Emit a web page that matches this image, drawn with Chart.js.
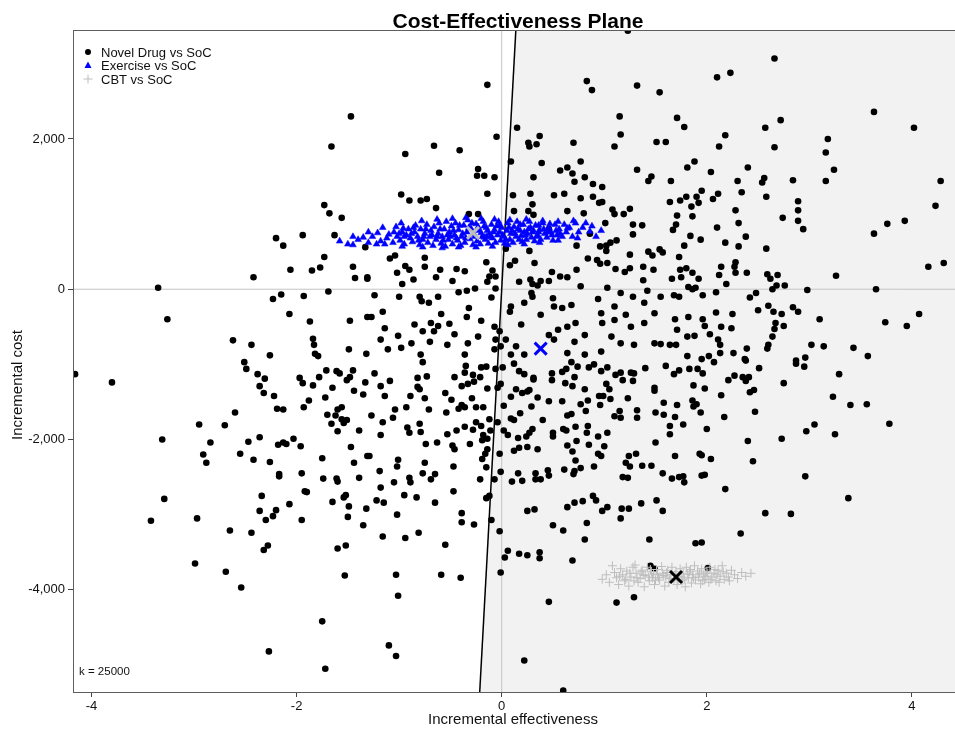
<!DOCTYPE html>
<html>
<head>
<meta charset="utf-8">
<script src="https://cdn.jsdelivr.net/npm/chart.js@4.4.1/dist/chart.umd.min.js"></script>
<style>
    html, body { margin: 0; padding: 0; background: #fff; }
    #lienzo { display: block; }
</style>
</head>
<body>
<canvas id="lienzo" width="955" height="731"></canvas>
<script>
// simulaciones: [efecto incremental, coste incremental]
const novelDrug = [
    [-1.47,2300],[-1.66,1900],[-1.73,1120],[-1.68,1010],[-1.56,950],[-2.20,680],[-2.13,580],[-1.94,720],[-1.63,720],[-1.33,560],
    [-1.73,430],[-2.06,260],[-1.85,250],[-1.77,290],[-1.45,300],[-1.43,150],[-1.31,140],[-2.42,160],[-3.35,20],[-3.26,-400],
    [-2.23,-130],[-2.15,-70],[-1.93,-90],[-1.69,-30],[-2.07,-330],[-1.87,-430],[-1.48,-420],[-1.31,-370],[-2.62,-680],[-2.44,-740],
    [-1.84,-660],[-1.83,-740],[-2.26,-880],[-1.82,-860],[-1.79,-890],[-1.49,-800],[-1.32,-860],
    [-4.16,-1130],[-3.80,-1240],[-2.51,-970],[-2.49,-1060],[-2.38,-1130],[-2.31,-1190],[-2.36,-1290],[-2.32,-1380],[-2.22,-1420],[-2.19,-1590],
    [-2.13,-1600],[-1.97,-1180],[-1.94,-1250],[-1.84,-1280],[-1.78,-1170],[-1.71,-1080],[-1.61,-1090],[-1.58,-1120],[-1.51,-1210],[-1.48,-1170],
    [-1.45,-1080],[-1.33,-1240],[-1.65,-1310],[-1.44,-1350],[-1.35,-1400],[-1.88,-1480],[-1.93,-1570],[-1.72,-1440],[-1.60,-1600],[-1.56,-1570],
    [-1.70,-1670],[-1.62,-1680],[-1.56,-1730],[-1.51,-1740],[-1.66,-1790],[-1.54,-1780],[-1.60,-1890],[-1.39,-1880],[-2.60,-1640],[-2.95,-1800],
    [-2.70,-1810],[-3.31,-2000],[-2.84,-2040],[-2.91,-2200],[-2.88,-2310],[-2.47,-2030],[-2.55,-2190],[-2.42,-2270],[-2.36,-1970],[-2.26,-2300],
    [-2.18,-2070],[-2.13,-2040],[-2.10,-2060],[-2.03,-1990],[-1.96,-2090],[-1.75,-2250],[-1.47,-2100],[-1.44,-2310],[-1.31,-2220],[-2.17,-2490],
    [-2.17,-2460],[-1.95,-2450],[-1.74,-2520],[-1.61,-2520],[-1.60,-2560],[-1.39,-2510],[-1.92,-2690],[-1.90,-2700],[-2.34,-2750],[-2.07,-2860],
    [-2.36,-2950],[-2.20,-2940],[-2.23,-3020],[-2.30,-3070],[-1.95,-3070],[-1.65,-2830],[-1.54,-2770],[-1.52,-2740],[-1.49,-2890],[-1.32,-2920],
    [-1.50,-3030],[-1.35,-3140],[-3.29,-2790],[-3.42,-3080],[-2.97,-3050],[-2.65,-3210],[-2.44,-3240],[-2.28,-3410],[-2.32,-3470],[-1.52,-3410],
    [-1.60,-3450],[-2.99,-3650],[-2.69,-3760],[-2.54,-3970],[-1.53,-3810],[-1.75,-4420],[-2.27,-4820],[-1.72,-5050],
    [1.23,3440],[-0.14,2720],[0.83,2770],[0.88,2650],[1.32,2710],[1.54,2620],[1.15,2300],[1.16,2060],[1.10,1900],[1.51,1960],
    [0.15,2150],[-0.05,2030],[0.37,2040],[0.26,1950],[0.27,1900],[0.34,1930],[0.70,1950],[-0.66,1910],[-0.41,1850],[-0.94,1800],
    [0.09,1700],[0.39,1680],[-0.61,1550],[-0.23,1600],[-0.24,1510],[-0.17,1510],[-0.07,1490],[0.57,1580],[0.64,1620],[0.69,1540],
    [0.77,1700],[0.81,1490],[0.71,1430],[0.31,1490],[1.32,1590],[1.46,1500],[1.43,1440],[0.89,1400],[0.98,1360],[-0.14,1270],
    [-0.98,1260],[-0.90,1180],[-0.79,1180],[-0.73,1200],[-0.64,1080],[0.11,1250],[0.28,1270],[0.30,1130],[0.51,1250],[0.61,1270],
    [0.77,1210],[0.89,1230],[0.95,1150],[0.98,1160],[0.12,1040],[0.26,1040],[0.31,990],[0.64,1040],[0.80,1010],[1.08,1060],
    [1.10,1000],[1.19,1000],[1.25,1070],[-0.32,1000],[-0.23,1000],[1.01,880],[1.28,860],[1.37,850],[1.28,730],[0.46,800],
    [0.96,570],[1.02,580],[1.12,650],[1.06,620],[0.73,580],[0.86,740],[1.02,510],[0.84,410],[0.93,390],[0.96,340],
    [1.03,350],[1.11,270],[1.20,230],[1.25,280],[1.38,300],[1.43,500],[1.47,450],[1.54,530],[1.48,260],[1.25,460],
    [1.38,120],[0.04,540],[0.27,510],[0.32,350],[0.13,380],[0.08,320],[0.73,260],[0.64,160],[0.57,170],[0.49,230],
    [0.46,110],[0.38,110],[0.28,130],[0.30,70],[0.35,50],[0.17,100],[-1.09,410],[-1.04,450],[-0.75,420],[-0.75,300],
    [-0.94,310],[-0.90,260],[-1.02,220],[-0.64,160],[-0.60,260],[-0.44,270],[-0.36,240],[-0.48,110],[-0.15,360],[-0.09,250],
    [-0.06,170],[-0.12,170],[-0.14,100],[-0.97,70],[-0.86,130],[-0.06,10],[-0.42,-40],[-0.34,-20],[-0.26,10],[-1.31,160],
    [-1.24,-80],[-1.00,-100],[-0.80,-100],[-0.78,-160],[-0.71,-180],[-0.62,-100],[-0.10,-110],[-0.59,-330],[-0.32,-250],[-0.34,-370],
    [-0.20,-420],[-1.16,-300],[-1.27,-370],[-1.14,-520],[-1.18,-670],[-1.01,-620],[-0.85,-470],[-0.69,-450],[-0.62,-490],[-0.51,-460],
    [-0.77,-560],[-0.66,-560],[-0.46,-600],[-0.88,-720],[-0.70,-700],[-0.53,-740],[-0.33,-720],[-0.23,-630],[-1.11,-800],[-0.98,-780],
    [-0.79,-870],[-0.36,-870],[-0.07,-500],[-0.02,-560],[-0.06,-670],[-0.07,-800],[-0.01,-760],[0.04,-670],[0.14,-760],[0.09,-870],
    [0.19,-470],[0.09,-230],[0.08,-300],[0.22,-180],[0.30,-100],[0.29,-50],[0.38,-340],[0.50,-120],[0.51,-230],[0.59,-250],
    [0.68,-210],[0.77,40],[0.94,-130],[1.03,20],[1.16,-50],[1.28,-100],[1.42,-20],[1.55,-100],[1.39,-180],[1.10,-230],
    [0.97,-320],[0.98,-450],[1.10,-410],[1.21,-340],[1.49,-320],[1.39,-450],[1.26,-500],[0.72,-450],[0.64,-500],[0.55,-540],
    [0.46,-610],[0.81,-610],[0.71,-700],[0.51,-670],[1.07,-630],[1.16,-720],[1.29,-740],[1.49,-720],[0.97,-830],[0.81,-870],
    [0.64,-850],[0.22,-870],
    [2.66,3070],[2.10,2820],[2.23,2880],[3.63,2360],[4.02,2150],[1.71,2280],[1.78,2160],[1.60,1960],[2.18,2050],[2.12,1900],
    [2.57,2150],[2.72,2250],[2.66,1890],[3.18,2000],[3.16,1820],[3.24,1590],[3.16,1440],[4.28,1440],[4.23,1110],[1.88,1700],
    [1.81,1620],[2.04,1560],[2.40,1620],[1.65,1440],[2.30,1440],[2.56,1480],[2.54,1420],[2.84,1450],[1.95,1310],[2.11,1270],
    [2.34,1290],[1.80,1230],[1.90,1230],[2.06,1200],[1.74,1180],[1.64,1160],[1.92,1150],[1.85,1100],[2.58,1230],[2.89,1170],
    [2.89,1050],[2.89,910],[2.94,800],[2.28,1050],[2.74,950],[1.71,980],[1.86,970],[1.70,860],[1.67,790],[2.31,880],
    [2.10,820],[1.84,710],[1.94,660],[2.38,700],[2.18,620],[2.31,570],[2.58,540],[1.78,580],[1.57,490],[1.73,430],
    [2.28,360],[2.27,300],[2.28,220],[2.14,300],[2.12,190],[2.39,220],[2.19,70],[1.74,260],[1.80,280],[1.86,220],
    [1.66,140],[1.75,160],[1.92,140],[1.82,30],[1.86,0],[1.89,20],[2.59,200],[2.69,190],[2.62,140],[2.68,50],
    [2.64,0],[2.76,50],[3.26,180],[4.16,300],[4.31,350],[3.63,740],[3.76,870],[3.93,910],[3.65,0],[2.98,-10],
    [1.68,-80],[1.73,-100],[1.96,-80],[2.09,-40],[2.42,-110],[2.48,-50],[2.60,-220],[2.65,-300],[2.73,-330],[2.84,-240],
    [2.89,-300],[2.50,-280],[2.25,-330],[2.09,-310],[1.82,-370],[1.69,-400],[1.96,-400],[1.98,-490],[1.71,-540],[2.14,-500],
    [2.24,-520],[2.67,-450],[2.75,-490],[2.66,-530],[2.64,-630],[3.10,-400],[4.07,-330],[3.74,-440],[3.95,-490],[1.81,-630],
    [1.88,-620],[2.03,-600],[2.11,-670],[2.13,-740],[1.55,-730],[1.64,-740],[1.70,-740],[2.60,-740],[2.59,-790],[2.39,-790],
    [3.02,-740],[3.14,-760],[3.43,-780],[2.13,-850],[2.26,-850],[1.81,-890],[2.02,-890],[1.95,-930],[2.37,-930],[2.96,-910],
    [3.57,-890],[2.87,-950],
    [-0.77,-970],[-0.35,-1020],[-0.20,-1040],[-0.15,-1030],[-0.06,-1060],[0.01,-1040],[-1.24,-1120],[-1.09,-1220],[-1.18,-1290],[-0.82,-1180],
    [-0.73,-1160],[-0.46,-1170],[-0.36,-1110],[-0.28,-1140],[-0.27,-1230],[-0.33,-1260],[-0.39,-1290],[-0.21,-1170],[-0.14,-1320],[-0.82,-1300],
    [-0.80,-1330],[-1.14,-1420],[-0.89,-1420],[-0.75,-1450],[-0.55,-1380],[-0.49,-1470],[-0.29,-1450],[-1.04,-1600],[-0.93,-1570],[-0.71,-1600],
    [-0.54,-1640],[-0.42,-1590],[-0.39,-1540],[-0.36,-1570],[-0.25,-1570],[-0.18,-1570],[-1.27,-1680],[-1.06,-1710],[-1.16,-1770],[-0.92,-1840],
    [-0.90,-1910],[-0.80,-1790],[-0.79,-1900],[-1.18,-1940],[-0.53,-1930],[-0.44,-1880],[-0.36,-1830],[-0.28,-1870],[-0.25,-1770],[-0.20,-1820],
    [-0.12,-1730],[-0.04,-1770],[-0.74,-2060],[-0.63,-2040],[-0.48,-2080],[-0.46,-2130],[-0.31,-2060],[-0.19,-2010],[-0.14,-1990],[-0.18,-1940],
    [-0.11,-1880],[-0.14,-2130],[-0.16,-2190],[-0.19,-2260],[-1.29,-2220],[-1.01,-2270],[-1.02,-2360],[-0.75,-2310],[-0.47,-2360],[-0.15,-2370],
    [-1.19,-2420],[-0.77,-2450],[-0.69,-2530],[-0.65,-2460],[-0.90,-2510],[-0.89,-2570],[-1.05,-2570],[-0.21,-2530],[-0.07,-2530],[-1.18,-2640],
    [-0.47,-2690],[-0.95,-2740],[-0.83,-2770],[-1.22,-2810],[-1.15,-2840],[-0.65,-2840],[-0.15,-2780],[-0.12,-2750],[-1.02,-3000],[-0.39,-2980],
    [-0.39,-3100],[-0.27,-3130],[-0.10,-3070],[-0.02,-3220],[-1.16,-3290],[-0.94,-3310],[-0.81,-3240],[-0.55,-3400],[-1.03,-3800],[-0.59,-3800],
    [-0.40,-3840],[-1.01,-4080],[-1.10,-4740],[-1.03,-4880],[-0.01,-3770],[0.22,-4940],[0.60,-5340],
    [0.12,-990],[0.17,-1090],[0.22,-1130],[0.31,-1180],[0.49,-1120],[0.49,-1210],[0.59,-1100],[0.63,-1060],[0.71,-1170],[0.68,-970],
    [0.74,-1030],[0.85,-1040],[0.90,-1000],[0.97,-1090],[1.03,-1040],[1.11,-1140],[1.18,-1210],[1.16,-1110],[1.26,-1110],[1.29,-1120],
    [1.40,-1050],[1.28,-1220],[1.49,-1310],[1.49,-1350],[0.62,-1250],[0.69,-1290],[0.81,-1330],[1.02,-1260],[1.05,-1330],[0.14,-1330],
    [0.20,-1380],[0.25,-1360],[0.27,-1340],[0.31,-1200],[0.09,-1430],[-0.01,-1260],[-0.04,-1310],[0.35,-1440],[0.46,-1490],[0.59,-1490],
    [0.77,-1530],[0.82,-1620],[0.84,-1480],[0.96,-1540],[0.95,-1420],[0.99,-1420],[1.06,-1460],[1.23,-1450],[1.32,-1610],[1.32,-1710],
    [1.10,-1690],[1.16,-1710],[1.15,-1620],[1.50,-1640],[0.02,-1550],[0.09,-1720],[0.12,-1740],[0.18,-1650],[0.29,-1560],[0.40,-1740],
    [0.64,-1680],[0.68,-1660],[0.60,-1860],[0.63,-1880],[0.72,-1830],[0.84,-1820],[0.83,-1910],[0.50,-1910],[0.50,-1960],[0.30,-1860],
    [0.27,-1910],[0.24,-1960],[0.16,-1980],[0.06,-1940],[0.02,-1880],[0.94,-1960],[1.03,-1910],[0.73,-2020],[0.85,-2070],[0.64,-2080],
    [0.69,-2160],[0.72,-2280],[0.94,-2190],[0.97,-2220],[1.00,-2090],[1.24,-2220],[1.31,-2190],[1.21,-2310],[1.25,-2360],[1.50,-2040],
    [1.46,-2350],[0.12,-2150],[0.17,-2110],[0.25,-2100],[0.35,-2130],[-0.02,-2190],[-0.01,-2430],[0.10,-2560],[0.16,-2450],[0.20,-2550],
    [0.33,-2450],[0.33,-2530],[0.38,-2530],[0.45,-2410],[0.46,-2480],[0.61,-2400],[0.70,-2460],[0.71,-2420],[0.77,-2380],[0.90,-2360],
    [1.18,-2500],[1.23,-2510],[1.37,-2350],[0.25,-2950],[0.32,-2930],[0.64,-2900],[0.71,-2840],[0.79,-2820],[0.89,-2750],[0.92,-2810],
    [0.98,-2950],[1.03,-2900],[1.17,-2920],[1.16,-3050],[1.24,-2920],[1.36,-2850],[1.51,-2810],[0.50,-3140],[0.60,-3210],[0.83,-3110],
    [0.81,-3330],[1.44,-3330],[0.06,-3480],[0.03,-3570],[0.17,-3520],[0.25,-3540],[0.37,-3500],[0.37,-3580],[0.69,-3610],[0.46,-4160],
    [1.12,-4170],[1.29,-4100],[1.45,-3680],[1.49,-3720],
    [1.60,-1020],[1.68,-1130],[1.73,-1080],[1.83,-1060],[1.91,-1060],[1.96,-1120],[2.07,-970],[2.38,-950],[2.51,-1050],[2.87,-990],
    [2.95,-1030],[3.29,-1130],[1.87,-1280],[1.98,-1320],[2.14,-1410],[2.21,-1210],[2.27,-1150],[2.35,-1170],[2.38,-1220],[2.41,-1170],
    [2.42,-1370],[2.46,-1340],[2.75,-1250],[3.23,-1430],[3.40,-1540],[3.56,-1530],[3.78,-1790],[1.58,-1510],[1.71,-1540],[1.86,-1480],
    [1.90,-1530],[1.87,-1560],[1.58,-1670],[1.69,-1700],[1.94,-1640],[2.17,-1700],[2.47,-1630],[1.64,-1820],[1.64,-1930],[1.77,-1800],
    [2.00,-1860],[2.40,-2020],[2.73,-1990],[2.97,-1890],[3.05,-1800],[3.25,-1930],[1.69,-2220],[1.93,-2190],[1.95,-2210],[2.04,-2260],
    [2.45,-2290],[1.57,-2450],[1.66,-2520],[1.73,-2500],[1.77,-2490],[1.78,-2570],[1.95,-2480],[1.98,-2470],[2.18,-2660],[2.96,-2490],
    [3.38,-2780],[1.57,-2950],[2.57,-2980],[2.82,-2990],[2.33,-3250],[1.89,-3380],[1.95,-3370],[2.01,-3710]
];

const exercise = [
    [-1.58,640],[-1.50,600],[-1.45,590],[-1.40,660],[-1.35,690],[-1.30,620],[-1.26,700],[-1.21,750],[-1.18,640],[-1.14,600],
    [-1.12,680],[-1.10,730],[-1.06,620],[-1.03,830],[-1.02,700],[-0.99,650],[-0.97,760],[-0.95,600],[-0.93,720],[-0.91,800],
    [-0.89,680],[-0.87,630],[-0.85,760],[-0.84,850],[-0.82,700],[-0.80,590],[-0.79,800],[-0.77,660],[-0.75,740],[-0.73,860],
    [-0.72,620],[-0.70,700],[-0.69,780],[-0.67,580],[-0.66,830],[-0.64,660],[-0.62,740],[-0.61,880],[-0.59,610],[-0.58,700],
    [-0.56,800],[-0.55,570],[-0.54,900],[-0.52,660],[-0.51,760],[-0.49,840],[-0.48,600],[-0.46,720],[-0.45,880],[-0.43,650],
    [-0.42,790],[-0.40,580],[-0.39,700],[-0.37,850],[-0.36,620],[-0.34,760],[-0.33,920],[-0.31,670],[-0.30,810],[-0.28,590],
    [-0.27,730],[-0.25,870],[-0.24,640],[-0.22,780],[-0.21,600],[-0.19,700],[-0.18,900],[-0.16,660],[-0.15,820],[-0.13,610],
    [-0.12,740],[-0.10,860],[-0.09,680],[-0.07,790],[-0.06,620],[-0.04,720],[-0.03,900],[-0.01,650],[0.00,820],[0.02,700],
    [0.03,610],[0.05,780],[0.06,880],[0.08,660],[0.09,740],[0.11,620],[0.12,830],[0.14,700],[0.15,900],[0.17,660],
    [0.18,780],[0.20,630],[0.21,860],[0.23,720],[0.24,660],[0.26,800],[0.27,900],[0.29,690],[0.30,760],[0.32,640],
    [0.33,850],[0.35,720],[0.37,790],[0.38,660],[0.40,880],[0.42,740],[0.44,690],[0.46,820],[0.48,760],[0.50,650],
    [0.52,860],[0.54,720],[0.56,800],[0.59,700],[0.61,860],[0.63,760],[0.66,820],[0.69,700],[0.72,880],[0.75,760],
    [0.79,820],[0.82,880],[0.86,770],[0.97,780],
    [-0.95,700],[-0.88,740],[-0.81,650],[-0.76,700],[-0.68,720],[-0.63,700],[-0.57,650],[-0.53,720],[-0.47,780],[-0.44,680],
    [-0.38,740],[-0.35,680],[-0.32,820],[-0.26,700],[-0.23,830],[-0.20,750],[-0.17,690],[-0.14,780],[-0.11,700],[-0.08,760],
    [-0.05,840],[-0.02,760],[0.01,720],[0.04,660],[0.07,820],[0.10,780],[0.13,740],[0.16,800],[0.19,710],[0.22,760],
    [0.25,740],[0.28,820],[0.31,780],[0.34,700],[0.36,760],[0.41,800],[0.45,760],[0.49,720],[0.53,780],[0.57,740],
    [-1.05,760],[-1.00,740],[-0.96,810],[-0.86,820],[-0.74,800],[-0.60,800],[-0.50,700],[-0.41,850],[-0.29,880],[-0.17,840],
    [-0.02,850],[0.18,860],[0.36,850],[0.47,870],[0.64,810],
    [-1.16,820],[-0.98,880],[-0.78,910],[-0.63,930],[-0.48,940],[-0.35,950],[-0.20,940],[-0.07,930],[0.08,920],[0.24,930],
    [0.40,910],[0.55,900],[0.70,910],[0.88,840],[0.92,700],[-1.22,600],[-0.97,570],[-0.77,560],[-0.58,550],[-0.42,560],
    [-0.25,560],[-0.09,570],[0.06,590],[0.22,600],[0.37,620],[0.55,650],[0.74,680],[-1.30,760],[-1.45,700],[-0.15,700]
];

const cbt = [
    [0.98,-3860],[1.02,-3800],[1.05,-3900],[1.08,-3680],[1.10,-3770],[1.12,-3840],[1.14,-3930],[1.16,-3720],[1.18,-3800],[1.20,-3880],
    [1.22,-3750],[1.24,-3950],[1.26,-3830],[1.28,-3700],[1.30,-3670],[1.31,-3780],[1.33,-3900],[1.35,-3850],[1.37,-3740],[1.39,-3960],
    [1.40,-3810],[1.42,-3700],[1.44,-3880],[1.46,-3760],[1.47,-3840],[1.49,-3930],[1.51,-3730],[1.52,-3800],[1.54,-3870],[1.56,-3690],
    [1.57,-3780],[1.59,-3950],[1.60,-3830],[1.62,-3740],[1.63,-3900],[1.65,-3800],[1.66,-3700],[1.68,-3860],[1.70,-3760],[1.71,-3930],
    [1.73,-3820],[1.74,-3720],[1.76,-3880],[1.77,-3790],[1.79,-3960],[1.80,-3700],[1.82,-3840],[1.83,-3760],[1.85,-3910],[1.86,-3800],
    [1.88,-3680],[1.89,-3870],[1.91,-3750],[1.92,-3830],[1.94,-3920],[1.95,-3720],[1.97,-3800],[1.98,-3860],[2.00,-3760],[2.02,-3900],
    [2.03,-3700],[2.05,-3830],[2.07,-3780],[2.09,-3880],[2.11,-3740],[2.13,-3820],[2.15,-3680],[2.17,-3860],[2.19,-3780],[2.21,-3830],
    [2.24,-3740],[2.27,-3800],[2.30,-3850],[2.34,-3770],[2.38,-3820],[2.43,-3780],
    [1.15,-3820],[1.25,-3780],[1.32,-3840],[1.38,-3800],[1.43,-3830],[1.48,-3790],[1.53,-3840],[1.58,-3810],[1.64,-3850],[1.69,-3800],
    [1.75,-3830],[1.81,-3790],[1.87,-3840],[1.93,-3780],[1.99,-3820],[2.04,-3860],[2.10,-3800],[2.16,-3760],[1.21,-3860],[1.36,-3760],
    [1.50,-3870],[1.61,-3770],[1.72,-3880],[1.84,-3730],[1.96,-3880],[2.08,-3730],[1.29,-3880],[1.45,-3730],[1.78,-3860],[2.01,-3780],
    [2.22,-3880],[2.12,-3900]
];

// medias de cada comparacion
const meanNovel = [0.38, -790];
const meanExercise = [-0.28, 750];
const meanCbt = [1.70, -3830];

const wtp = 25000;
const xLimits = [-4.18, 4.42];
const yLimits = [-5360, 3450];
const xTicks = [-4, -2, 0, 2, 4];
const yTicks = [-4000, -2000, 0, 2000];

const seriesNames = ["Novel Drug vs SoC", "Exercise vs SoC", "CBT vs SoC"];

const FUENTE = "'Liberation Sans', Arial, sans-serif";

function aPuntos(pares) {
    return pares.map((p) => ({ x: p[0], y: p[1] }));
}

const zonaCosteEfectiva = [
    { x: yLimits[0] / wtp, y: yLimits[0] },
    { x: yLimits[1] / wtp, y: yLimits[1] },
    { x: xLimits[1], y: yLimits[1] },
    { x: xLimits[1], y: yLimits[0] }
];

const decoracion = {
    id: "decoracion",
    afterDatasetsDraw(chart) {
        const ctx = chart.ctx;
        const a = chart.chartArea;
        ctx.save();

        // caja del grafico
        ctx.strokeStyle = "#5e5e5e";
        ctx.lineWidth = 1;
        ctx.strokeRect(a.left + 0.5, a.top + 0.5, a.right - a.left, a.bottom - a.top);

        // titulo
        ctx.fillStyle = "#000";
        ctx.font = "bold 21px " + FUENTE;
        ctx.textAlign = "center";
        ctx.textBaseline = "alphabetic";
        ctx.fillText("Cost-Effectiveness Plane", 518, 28);

        // leyenda
        ctx.font = "13px " + FUENTE;
        ctx.textAlign = "left";
        ctx.textBaseline = "middle";
        const filas = [53, 66.5, 80];
        ctx.fillStyle = "#000";
        ctx.beginPath();
        ctx.arc(88, filas[0] - 1, 3, 0, Math.PI * 2);
        ctx.fill();
        ctx.fillStyle = "#0000ff";
        ctx.beginPath();
        ctx.moveTo(88, filas[1] - 5);
        ctx.lineTo(91.5, filas[1] + 1.5);
        ctx.lineTo(84.5, filas[1] + 1.5);
        ctx.closePath();
        ctx.fill();
        ctx.strokeStyle = "#bebebe";
        ctx.lineWidth = 1;
        ctx.beginPath();
        ctx.moveTo(83.5, filas[2] - 1);
        ctx.lineTo(92.5, filas[2] - 1);
        ctx.moveTo(88, filas[2] - 5.5);
        ctx.lineTo(88, filas[2] + 3.5);
        ctx.stroke();
        ctx.fillStyle = "#111";
        seriesNames.forEach((nombre, i) => ctx.fillText(nombre, 101, filas[i]));

        // umbral
        ctx.font = "11.5px " + FUENTE;
        ctx.fillText("k = " + wtp, 79, 672);

        // titulos de ejes
        ctx.font = "15px " + FUENTE;
        ctx.textAlign = "center";
        ctx.fillStyle = "#111";
        ctx.fillText("Incremental effectiveness", 513, 720);
        ctx.translate(18, 385);
        ctx.rotate(-Math.PI / 2);
        ctx.fillText("Incremental cost", 0, 0);

        ctx.restore();
    }
};

new Chart(document.getElementById("lienzo"), {
    type: "scatter",
    data: {
        datasets: [
            {
                type: "line",
                data: zonaCosteEfectiva,
                fill: "start",
                backgroundColor: "#f2f2f2",
                borderColor: "rgba(0,0,0,0)",
                borderWidth: 0,
                pointRadius: 0,
                order: 10
            },
            {
                type: "line",
                data: [{ x: xLimits[0], y: 0 }, { x: xLimits[1], y: 0 }],
                borderColor: "#c4c4c4",
                borderWidth: 1,
                pointRadius: 0,
                fill: false,
                order: 9
            },
            {
                type: "line",
                data: [{ x: 0, y: yLimits[0] }, { x: 0, y: yLimits[1] }],
                borderColor: "#c4c4c4",
                borderWidth: 1,
                pointRadius: 0,
                fill: false,
                order: 9
            },
            {
                type: "line",
                data: [{ x: yLimits[0] / wtp, y: yLimits[0] }, { x: yLimits[1] / wtp, y: yLimits[1] }],
                borderColor: "#000",
                borderWidth: 1.5,
                pointRadius: 0,
                fill: false,
                order: 8
            },
            {
                label: seriesNames[0],
                data: aPuntos(novelDrug),
                pointStyle: "circle",
                pointRadius: 3.3,
                backgroundColor: "#000",
                borderColor: "#000",
                borderWidth: 0,
                order: 6
            },
            {
                label: seriesNames[1],
                data: aPuntos(exercise),
                pointStyle: "triangle",
                pointRadius: 3.9,
                backgroundColor: "#0000ff",
                borderColor: "#0000ff",
                borderWidth: 0.5,
                order: 5
            },
            {
                label: seriesNames[2],
                data: aPuntos(cbt),
                pointStyle: "cross",
                pointRadius: 4.5,
                backgroundColor: "#bebebe",
                borderColor: "#bebebe",
                borderWidth: 1,
                order: 4
            },
            {
                data: aPuntos([meanNovel]),
                pointStyle: "crossRot",
                pointRadius: 8.5,
                borderColor: "#0000ff",
                borderWidth: 3,
                order: 1
            },
            {
                data: aPuntos([meanExercise]),
                pointStyle: "crossRot",
                pointRadius: 8.5,
                borderColor: "#bebebe",
                borderWidth: 3,
                order: 1
            },
            {
                data: aPuntos([meanCbt]),
                pointStyle: "crossRot",
                pointRadius: 8.5,
                borderColor: "#000",
                borderWidth: 3,
                order: 1
            }
        ]
    },
    options: {
        responsive: false,
        devicePixelRatio: 1,
        animation: false,
        events: [],
        layout: { autoPadding: false, padding: { top: 30, left: 0, right: 0, bottom: 0 } },
        plugins: {
            legend: { display: false },
            tooltip: { enabled: false },
            title: { display: false }
        },
        scales: {
            x: {
                type: "linear",
                min: xLimits[0],
                max: xLimits[1],
                afterBuildTicks: (s) => { s.ticks = xTicks.map((v) => ({ value: v })); },
                afterFit: (s) => {
                    s.height = 39;
                    s.paddingLeft = 0;
                    s.paddingRight = 0;
                },
                ticks: {
                    autoSkip: false,
                    maxRotation: 0,
                    padding: 2,
                    color: "#111",
                    font: { family: FUENTE, size: 13 },
                    callback: (v) => String(v)
                },
                grid: { drawOnChartArea: false, drawTicks: true, tickLength: 5, tickColor: "#444" },
                border: { display: false }
            },
            y: {
                type: "linear",
                min: yLimits[0],
                max: yLimits[1],
                afterBuildTicks: (s) => { s.ticks = yTicks.map((v) => ({ value: v })); },
                afterFit: (s) => {
                    s.width = 73;
                    s.paddingTop = 0;
                    s.paddingBottom = 0;
                },
                ticks: {
                    autoSkip: false,
                    padding: 3,
                    color: "#111",
                    font: { family: FUENTE, size: 13 },
                    callback: (v) => v.toLocaleString("en-US")
                },
                grid: { drawOnChartArea: false, drawTicks: true, tickLength: 5, tickColor: "#444" },
                border: { display: false }
            }
        }
    },
    plugins: [decoracion]
});
</script>
</body>
</html>
